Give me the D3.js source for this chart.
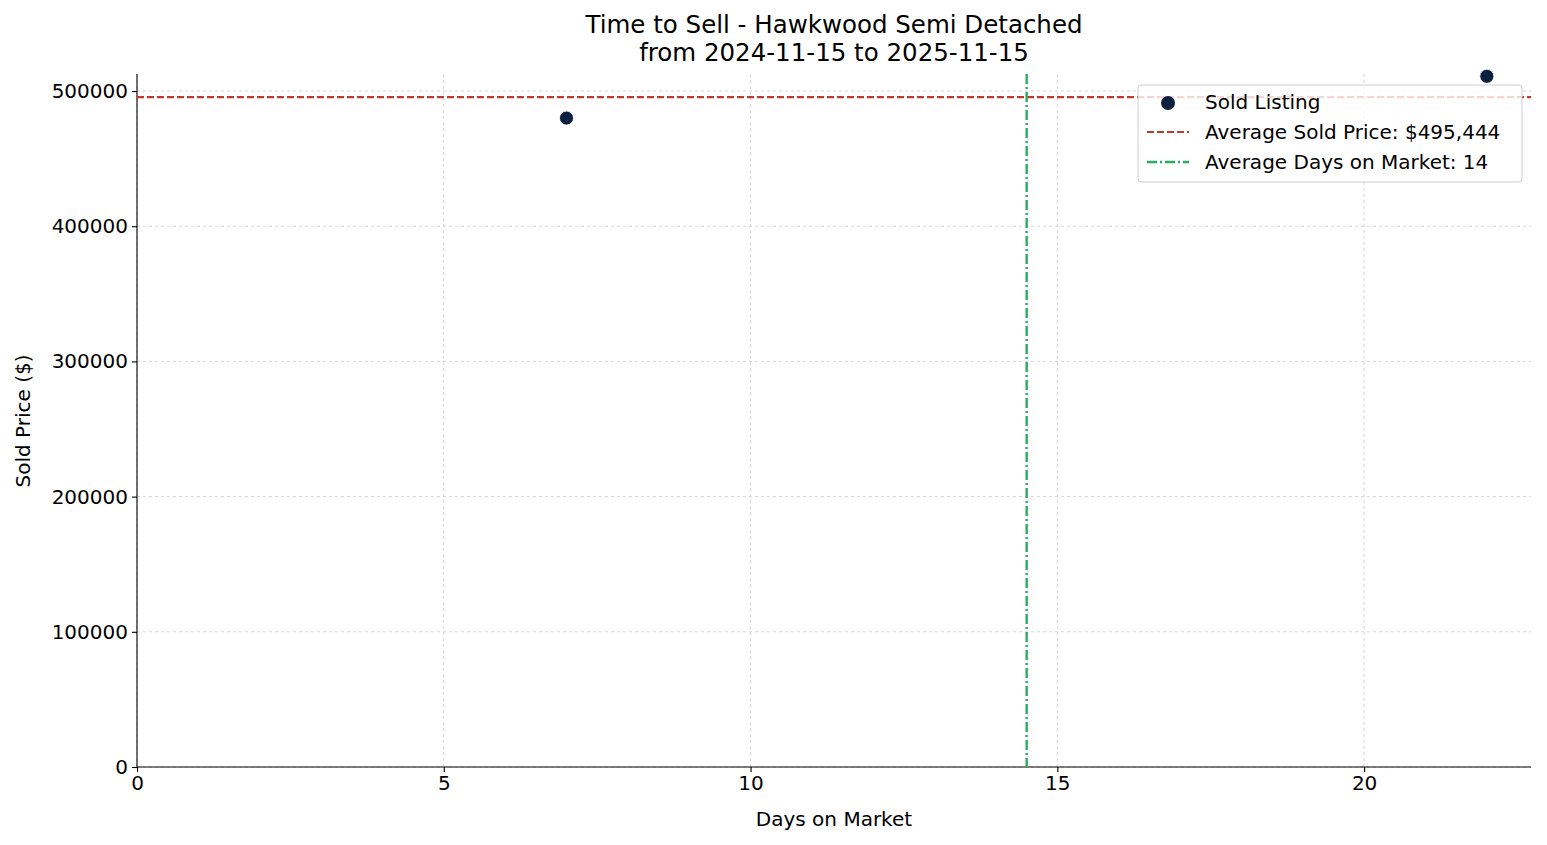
<!DOCTYPE html>
<html><head><meta charset="utf-8">
<script src="https://cdn.jsdelivr.net/npm/d3@7"></script>
<style>body{margin:0;background:#fff}text{font-family:"DejaVu Sans",sans-serif}</style>
</head><body><svg id="c" width="1547" height="845"></svg>
<script>
var daysOnMarket = [7, 22];
var soldPrices = [480000, 510888];
var avgPrice = 495444;
var avgDays = 14.5;
var xTicks = [0, 5, 10, 15, 20];
var yTicks = [0, 100000, 200000, 300000, 400000, 500000];

var fs = "20px";
var svg = d3.select("#c");
var m = {left: 137, right: 1531, top: 74, bottom: 767};
var x = d3.scaleLinear().domain([0, 22.72]).range([m.left, m.right]);
var y = d3.scaleLinear().domain([0, 512600]).range([m.bottom, m.top]);

// grid
svg.append("g").selectAll("line").data(xTicks).enter().append("line")
    .attr("x1", d => x(d)).attr("x2", d => x(d)).attr("y1", m.top).attr("y2", m.bottom)
    .attr("stroke", "#ccc").attr("stroke-width", 0.8).attr("stroke-dasharray", "3,3");
svg.append("g").selectAll("line").data(yTicks).enter().append("line")
    .attr("x1", m.left).attr("x2", m.right).attr("y1", d => y(d)).attr("y2", d => y(d))
    .attr("stroke", "#ccc").attr("stroke-width", 0.8).attr("stroke-dasharray", "3,3");

// axes
var xa = svg.append("g").attr("transform", "translate(0," + m.bottom + ")")
    .call(d3.axisBottom(x).tickValues(xTicks).tickSize(5).tickPadding(4));
var ya = svg.append("g").attr("transform", "translate(" + m.left + ",0)")
    .call(d3.axisLeft(y).tickValues(yTicks).tickFormat(d3.format("d")).tickSize(5).tickPadding(4));
[xa, ya].forEach(function (a) {
    a.attr("font-size", null).attr("font-family", null);
    a.selectAll("text").style("font-size", fs).attr("fill", "#000");
    a.selectAll("line,path").attr("stroke", "#000").attr("stroke-width", 1.1);
});
xa.select(".domain").attr("d", "M" + m.left + ",0H" + m.right);
ya.select(".domain").attr("d", "M0," + m.bottom + "V" + m.top);

// reference lines
svg.append("line").attr("x1", m.left).attr("x2", m.right).attr("y1", y(avgPrice)).attr("y2", y(avgPrice))
    .attr("stroke", "#c0392b").attr("stroke-width", 2.2).attr("stroke-dasharray", "7,3");
svg.append("line").attr("x1", x(avgDays)).attr("x2", x(avgDays)).attr("y1", m.top).attr("y2", m.bottom)
    .attr("stroke", "#27ae60").attr("stroke-width", 2.4).attr("stroke-dasharray", "10,3,2,3");

// points
svg.append("g").selectAll("circle").data(daysOnMarket).enter().append("circle")
    .attr("cx", d => x(d)).attr("cy", (d, i) => y(soldPrices[i])).attr("r", 7)
    .attr("fill", "#0b1f3f").attr("stroke", "#fff").attr("stroke-width", 0.8);

// legend
var lg = svg.append("g");
lg.append("rect").attr("x", 1138).attr("y", 85).attr("width", 384).attr("height", 97).attr("rx", 3)
    .attr("fill", "#fff").attr("fill-opacity", 0.8).attr("stroke", "#ccc");
lg.append("circle").attr("cx", 1168).attr("cy", 103).attr("r", 7).attr("fill", "#0b1f3f");
lg.append("line").attr("x1", 1147).attr("x2", 1189).attr("y1", 132).attr("y2", 132)
    .attr("stroke", "#c0392b").attr("stroke-width", 2.2).attr("stroke-dasharray", "7,3");
lg.append("line").attr("x1", 1147).attr("x2", 1189).attr("y1", 162).attr("y2", 162)
    .attr("stroke", "#27ae60").attr("stroke-width", 2.4).attr("stroke-dasharray", "10,3,2,3");
var labels = ["Sold Listing", "Average Sold Price: $" + d3.format(",")(avgPrice), "Average Days on Market: 14"];
lg.selectAll("text.l").data(labels).enter().append("text").attr("x", 1205).attr("y", (d, i) => 109 + i * 30)
    .style("font-size", fs).text(d => d);

// titles
svg.append("text").attr("x", 834).attr("y", 33).attr("text-anchor", "middle").style("font-size", "24.5px")
    .text("Time to Sell - Hawkwood Semi Detached");
svg.append("text").attr("x", 834).attr("y", 61).attr("text-anchor", "middle").style("font-size", "24.5px")
    .text("from 2024-11-15 to 2025-11-15");
svg.append("text").attr("x", 834).attr("y", 826).attr("text-anchor", "middle").style("font-size", fs)
    .text("Days on Market");
svg.append("text").attr("transform", "translate(30,421) rotate(-90)").attr("text-anchor", "middle")
    .style("font-size", fs).text("Sold Price ($)");
</script></body></html>
